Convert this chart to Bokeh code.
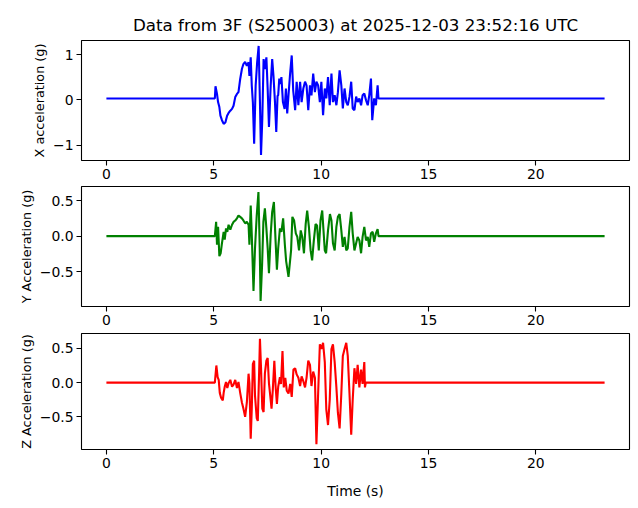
import numpy as np
from bokeh.plotting import figure
from bokeh.layouts import column
from bokeh.models import Range1d, FixedTicker
from bokeh.embed import file_html
from bokeh.resources import INLINE

TITLE = "Data from 3F (S250003) at 2025-12-03 23:52:16 UTC"
X_LABEL = "Time (s)"
Y_LABELS = ["X acceleration (g)", "Y Acceleration (g)", "Z Acceleration (g)"]
COLORS = ["blue", "green", "red"]

TIME_TICKS = [0, 5, 10, 15, 20]
X_TICKS = [-1, 0, 1]
X_TICK_LABELS = ["\u22121", "0", "1"]
YZ_TICKS = [-0.5, 0.0, 0.5]
YZ_TICK_LABELS = ["\u22120.5", "0.0", "0.5"]

t_x = [0.0, 5.05, 5.08, 5.15, 5.20, 5.26, 5.31, 5.38, 5.46, 5.54, 5.62, 5.69, 5.77, 5.85, 5.92,
       6.00, 6.08, 6.15, 6.23, 6.31, 6.38, 6.46, 6.54, 6.62, 6.66, 6.72, 6.77, 6.82, 6.88, 6.95,
       7.02, 7.09, 7.15, 7.20, 7.26, 7.32, 7.38, 7.45, 7.51, 7.57, 7.65, 7.72, 7.78, 7.85, 7.91,
       7.97, 8.00, 8.05, 8.10, 8.15, 8.22, 8.30, 8.36, 8.42, 8.48, 8.55, 8.63, 8.70, 8.79, 8.86,
       8.94, 9.02, 9.09, 9.17, 9.25, 9.32, 9.40, 9.48, 9.55, 9.63, 9.71, 9.78, 9.86, 9.94, 10.01,
       10.09, 10.17, 10.24, 10.32, 10.40, 10.48, 10.55, 10.63, 10.71, 10.78, 10.86, 10.94, 11.01,
       11.09, 11.17, 11.24, 11.32, 11.40, 11.47, 11.55, 11.63, 11.70, 11.78, 11.86, 11.93, 12.01,
       12.09, 12.17, 12.24, 12.32, 12.38, 12.47, 12.55, 12.63, 12.67, 23.2]
acc_x = [0.03, 0.03, 0.30, 0.13, -0.05, -0.16, -0.35, -0.45, -0.53, -0.50, -0.35, -0.29, -0.24, -0.20, -0.13,
         0.06, 0.13, 0.17, 0.46, 0.68, 0.79, 0.84, 0.75, 0.83, 0.53, 0.94, 0.31, -0.05, -0.97, 0.31,
         0.83, 1.19, -0.05, -1.22, -0.42, 0.90, 0.68, 0.94, 0.24, -0.60, 0.31, 0.90, 0.53, -0.05, -0.71,
         0.09, 0.10, 0.47, 0.35, 0.50, -0.05, -0.20, 0.25, -0.30, 0.10, 0.55, 0.98, 0.20, -0.23, 0.40,
         -0.12, 0.40, -0.05, 0.25, 0.40, 0.32, -0.23, 0.32, 0.10, 0.58, 0.17, 0.40, 0.32, -0.05, 0.40,
         -0.34, 0.25, 0.03, 0.50, -0.12, 0.58, -0.05, 0.10, -0.12, 0.17, 0.65, 0.32, -0.19,
         0.25, -0.05, -0.12, 0.07, 0.40, -0.19, -0.23, 0.07, -0.05, 0.03, -0.12, 0.10, 0.14,
         -0.01, -0.12, 0.10, 0.47, -0.45, 0.03, -0.12, 0.32, 0.03, 0.03]

t_y = [0.0, 5.05, 5.11, 5.15, 5.20, 5.26, 5.32, 5.38, 5.46, 5.51, 5.57, 5.63, 5.69, 5.77, 5.85,
       5.92, 6.00, 6.08, 6.15, 6.23, 6.31, 6.38, 6.46, 6.54, 6.62, 6.66, 6.72, 6.77, 6.85, 6.92,
       7.00, 7.08, 7.14, 7.18, 7.25, 7.31, 7.38, 7.45, 7.51, 7.57, 7.65, 7.72, 7.80, 7.88, 7.94,
       8.00, 8.08, 8.15, 8.23, 8.31, 8.37, 8.48, 8.60, 8.66, 8.74, 8.82, 8.89, 8.97, 9.05, 9.12,
       9.20, 9.28, 9.35, 9.43, 9.51, 9.58, 9.66, 9.74, 9.81, 9.89, 9.97, 10.05, 10.11, 10.17, 10.23,
       10.32, 10.41, 10.48, 10.55, 10.63, 10.71, 10.78, 10.86, 10.94, 11.01, 11.09, 11.17, 11.24,
       11.32, 11.40, 11.47, 11.55, 11.63, 11.70, 11.78, 11.86, 11.93, 12.01, 12.09, 12.17, 12.24,
       12.32, 12.40, 12.47, 12.55, 12.63, 12.67, 23.2]
acc_y = [0.0, 0.0, 0.20, -0.12, 0.13, -0.28, -0.24, -0.10, 0.06, -0.05, 0.11, 0.06, 0.16, 0.09, 0.16,
         0.20, 0.22, 0.25, 0.29, 0.27, 0.25, 0.22, 0.18, 0.20, 0.16, -0.12, 0.43, 0.02, -0.77, -0.17,
         0.29, 0.62, -0.17, -0.91, -0.40, 0.20, 0.39, 0.11, -0.17, -0.52, 0.02, 0.34, 0.48, -0.08, -0.47,
         -0.17, 0.11, 0.06, 0.25, -0.12, -0.35, -0.57, -0.20, 0.27, 0.22, 0.04, -0.01, -0.20, 0.08, -0.01,
         -0.24, 0.17, 0.36, 0.13, -0.20, -0.34, -0.06, 0.17, 0.15, -0.20, 0.22, 0.36, 0.08, -0.20, -0.24,
         0.08, 0.31, 0.22, -0.10, -0.20, 0.13, 0.27, 0.31, 0.08, -0.15, -0.01, -0.20, -0.17,
         0.13, 0.34, 0.04, -0.20, -0.10, -0.01, -0.06, -0.24, -0.01, 0.13, -0.06, -0.01, -0.15,
         0.04, 0.06, -0.08, 0.04, 0.10, 0.0, 0.0]

t_z = [0.0, 5.05, 5.12, 5.18, 5.23, 5.28, 5.34, 5.42, 5.46, 5.51, 5.57, 5.63, 5.69, 5.77, 5.85,
       5.92, 6.00, 6.08, 6.15, 6.23, 6.31, 6.38, 6.46, 6.54, 6.62, 6.66, 6.72, 6.77, 6.82, 6.88,
       6.92, 7.00, 7.05, 7.11, 7.15, 7.20, 7.26, 7.32, 7.38, 7.45, 7.51, 7.57, 7.63, 7.69, 7.75,
       7.82, 7.88, 7.94, 8.00, 8.08, 8.13, 8.20, 8.26, 8.33, 8.40, 8.48, 8.56, 8.63, 8.71, 8.79,
       8.86, 8.94, 9.02, 9.09, 9.17, 9.25, 9.32, 9.40, 9.48, 9.55, 9.63, 9.71, 9.78, 9.86, 9.94,
       10.01, 10.09, 10.17, 10.24, 10.32, 10.40, 10.48, 10.55, 10.63, 10.71, 10.78, 10.86, 10.94,
       11.01, 11.09, 11.17, 11.24, 11.32, 11.40, 11.47, 11.55, 11.63, 11.70, 11.78, 11.86, 11.93,
       12.01, 12.04, 12.08, 23.2]
acc_z = [0.0, 0.0, 0.25, 0.08, 0.04, -0.15, -0.22, -0.26, -0.15, -0.06, 0.01, -0.08, -0.01, 0.04, -0.06,
         -0.03, 0.04, -0.08, 0.01, -0.15, -0.29, -0.38, -0.50, -0.29, 0.13, -0.01, -0.82, -0.38, 0.27, 0.32,
         -0.19, -0.52, -0.56, 0.13, 0.64, 0.22, -0.38, -0.43, 0.13, 0.32, 0.36, -0.01, -0.19, -0.38, -0.10,
         0.32, -0.06, -0.31, -0.06, 0.08, -0.02, 0.46, -0.07, 0.07, -0.12, -0.16, -0.02, -0.21, 0.19, 0.21,
         0.12, 0.07, -0.05, 0.09, 0.02, -0.07, 0.07, 0.32, 0.26, -0.05, 0.16, 0.07, -0.90, -0.16, 0.56,
         0.49, 0.58, 0.30, -0.39, -0.62, -0.25, 0.49, 0.56, 0.30, -0.07, -0.44, -0.67, -0.16,
         0.39, 0.49, 0.58, 0.39, -0.16, -0.76, -0.25, 0.21, -0.02, 0.26, -0.07, 0.19, -0.02,
         0.30, -0.07, 0.0, 0.0]

FONT = "DejaVu Sans"
T_MIN, T_MAX = 0.0, 23.2
t_pad = 0.05 * (T_MAX - T_MIN)
x_range = Range1d(T_MIN - t_pad, T_MAX + t_pad)

series = [(t_x, acc_x), (t_y, acc_y), (t_z, acc_z)]
ticks = [(X_TICKS, X_TICK_LABELS), (YZ_TICKS, YZ_TICK_LABELS), (YZ_TICKS, YZ_TICK_LABELS)]
frame_heights = [120, 120, 116]
borders = [(40, 25), (1, 24), (3, 56)]

figs = []
for i in range(3):
    ts, vs = series[i]
    lo, hi = min(vs), max(vs)
    pad = 0.05 * (hi - lo)
    p = figure(frame_width=548, frame_height=frame_heights[i],
               x_range=x_range, y_range=Range1d(lo - pad, hi + pad),
               output_backend="svg", toolbar_location=None,
               min_border_left=81, min_border_right=5,
               min_border_top=borders[i][0], min_border_bottom=borders[i][1],
               background_fill_color="white", border_fill_color="white")
    if i == 0:
        p.title.text = TITLE
        p.title.align = "center"
        p.title.text_font = FONT
        p.title.text_font_size = "16.7px"
        p.title.text_font_style = "normal"
        p.title.text_color = "black"
        p.title.standoff = 12
    p.line(ts, vs, line_color=COLORS[i], line_width=2.1)
    p.xgrid.visible = False
    p.ygrid.visible = False
    p.outline_line_color = "black"
    p.outline_line_width = 1.1
    p.outline_line_alpha = 1.0
    p.xaxis.ticker = FixedTicker(ticks=TIME_TICKS)
    yt, yl = ticks[i]
    p.yaxis.ticker = FixedTicker(ticks=yt)
    p.yaxis.major_label_overrides = {k: v for k, v in zip(yt, yl)}
    p.yaxis.axis_label = Y_LABELS[i]
    if i == 2:
        p.xaxis.axis_label = X_LABEL
    for ax in [p.xaxis[0], p.yaxis[0]]:
        ax.axis_line_color = None
        ax.major_tick_line_color = "black"
        ax.major_tick_line_width = 1.1
        ax.major_tick_out = 5
        ax.major_tick_in = 0
        ax.minor_tick_line_color = None
        ax.major_label_standoff = 3
        ax.major_label_text_font = FONT
        ax.major_label_text_font_size = "13.9px"
        ax.major_label_text_color = "black"
        ax.axis_label_text_font = FONT
        ax.axis_label_text_font_size = "13.9px"
        ax.axis_label_text_font_style = "normal"
        ax.axis_label_text_color = "black"
    p.yaxis[0].axis_label_text_font_size = "12.8px"
    p.yaxis[0].axis_label_standoff = 3
    p.xaxis[0].axis_label_standoff = 12
    figs.append(p)

layout = column(*figs, spacing=0)
open("out.html", "w").write(file_html(layout, INLINE))
